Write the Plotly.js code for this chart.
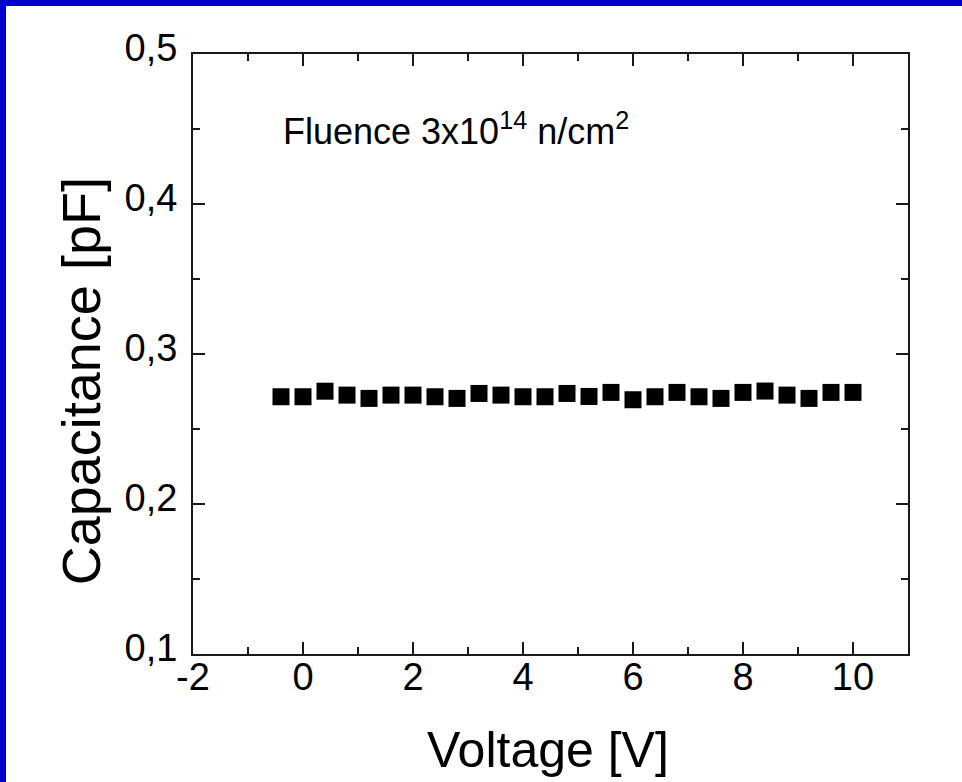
<!DOCTYPE html>
<html>
<head>
<meta charset="utf-8">
<script src="https://cdn.plot.ly/plotly-3.0.1.min.js"></script>
<style>
  html, body { margin: 0; padding: 0; background: #ffffff; }
  #frame { position: absolute; left: 0; top: 0; width: 962px; height: 782px; background: #0000CC; overflow: hidden; }
  #chart { position: absolute; left: 6px; top: 6px; width: 956px; height: 776px; background: #ffffff; }
</style>
</head>
<body>
<div id="frame"><div id="chart"></div></div>
<script>
// Data
const voltage = [-0.4, 0.0, 0.4, 0.8, 1.2, 1.6, 2.0, 2.4, 2.8, 3.2, 3.6, 4.0, 4.4, 4.8,
                 5.2, 5.6, 6.0, 6.4, 6.8, 7.2, 7.6, 8.0, 8.4, 8.8, 9.2, 9.6, 10.0];
const capacitance = [0.2715, 0.2715, 0.2752, 0.2726, 0.2704, 0.2726, 0.2726, 0.2715, 0.2704,
                     0.2737, 0.2726, 0.2715, 0.2715, 0.2737, 0.2717, 0.2744, 0.2695, 0.2715,
                     0.2744, 0.2715, 0.2704, 0.2744, 0.2753, 0.2726, 0.2704, 0.2744, 0.2744];
const xTickVals = [-2, 0, 2, 4, 6, 8, 10];
const xTickText = ['-2', '0', '2', '4', '6', '8', '10'];
const yTickVals = [0.1, 0.2, 0.3, 0.4, 0.5];
const yTickText = ['0,1', '0,2', '0,3', '0,4', '0,5'];
const annotationText = 'Fluence 3x10<sup>14</sup> n/cm<sup>2</sup>';
const xTitle = 'Voltage [V]';
const yTitle = 'Capacitance [pF]';

const FONT = '"Liberation Sans", Arial, sans-serif';

const trace = {
  x: voltage,
  y: capacitance,
  type: 'scatter',
  mode: 'markers',
  marker: { symbol: 'square', size: 17, color: '#000000', line: { width: 0 } },
  hoverinfo: 'x+y'
};

const axisCommon = {
  showline: true,
  linecolor: '#1a1a1a',
  linewidth: 2,
  mirror: 'allticks',
  ticks: 'inside',
  ticklen: 12,
  tickwidth: 2,
  tickcolor: '#1a1a1a',
  showgrid: false,
  zeroline: false,
  tickfont: { family: FONT, size: 38, color: '#000000' }
};

const layout = {
  width: 956,
  height: 776,
  margin: { l: 187, r: 54, t: 48, b: 128 },
  paper_bgcolor: '#ffffff',
  plot_bgcolor: '#ffffff',
  separators: ',.',
  showlegend: false,
  xaxis: Object.assign({}, axisCommon, {
    range: [-2, 11],
    tickmode: 'array',
    tickvals: xTickVals,
    ticktext: xTickText,
    ticklabelstandoff: -12,
    minor: { dtick: 1, tick0: -2, ticks: 'inside', ticklen: 7, tickwidth: 2, tickcolor: '#1a1a1a' }
  }),
  yaxis: Object.assign({}, axisCommon, {
    range: [0.1, 0.5],
    tickmode: 'array',
    tickvals: yTickVals,
    ticktext: yTickText,
    ticklabelstandoff: 6,
    ticklabelshift: -6,
    minor: { dtick: 0.05, tick0: 0.1, ticks: 'inside', ticklen: 7, tickwidth: 2, tickcolor: '#1a1a1a' }
  }),
  annotations: [
    {
      x: -0.4, y: 0.45, xref: 'x', yref: 'y',
      xanchor: 'left', yanchor: 'middle',
      text: annotationText,
      showarrow: false,
      font: { family: FONT, size: 36, color: '#000000' }
    },
    {
      x: 0.5, y: 0, xref: 'paper', yref: 'paper',
      xanchor: 'center', yanchor: 'middle',
      yshift: -96, xshift: -3,
      text: xTitle,
      showarrow: false,
      font: { family: FONT, size: 50, color: '#000000' }
    },
    {
      x: 0, y: 0.4545, xref: 'paper', yref: 'paper',
      xanchor: 'center', yanchor: 'middle',
      xshift: -112,
      textangle: -90,
      text: yTitle,
      showarrow: false,
      font: { family: FONT, size: 54, color: '#000000' }
    }
  ]
};

Plotly.newPlot('chart', [trace], layout, { displayModeBar: false, staticPlot: true });
</script>
</body>
</html>
